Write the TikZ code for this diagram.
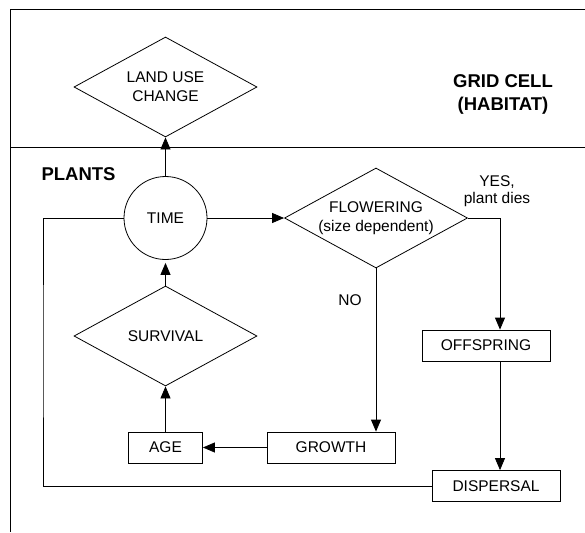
\documentclass[tikz,border=0pt]{standalone}
\usepackage{fontspec}
\setmainfont{Liberation Sans}
\usetikzlibrary{shapes.geometric, arrows.meta}

\tikzset{
	flowpicture/.style = {
		x = 1pt,
		y = -1pt,
		line width = 0.8pt,
		font = \fontsize{15.5}{19}\selectfont,
		>= {Triangle[length=12pt, width=10pt]},
		arrow/.style = {
			draw,
			->,
		}
	},
	decision/.style = {
		diamond,
		draw = black,
		aspect = 1.82,
		inner sep = 0pt,
		minimum width = 183pt,
		minimum height = 100pt,
		align = center
	},
	stepbox/.style = {
		rectangle,
		draw = black,
		minimum width = 128pt,
		minimum height = 31pt
	},
	timenode/.style = {
		circle,
		draw = black,
		minimum size = 83pt
	},
	heading/.style = {
		font = \fontsize{18.5}{23}\selectfont\bfseries,
		align = center
	}
}

\begin{document}
\begin{tikzpicture}[flowpicture]
	\useasboundingbox (0,0) rectangle (585,532);

	% habitat frame
	\draw (585,9) -- (10,9) -- (10,532);
	\draw (10,147) -- (585,147);

	\node[heading] (grid) at (503,94) {GRID CELL\\(HABITAT)};
	\node[heading] (plants) at (78.5,174) {PLANTS};

	\node[decision] (landuse) at (165.5,87) {LAND USE\\CHANGE};
	\node[timenode] (time) at (165.5,218) {TIME};
	\node[decision] (flowering) at (376,218) {FLOWERING\\(size dependent)};
	\node[decision] (survival) at (165.5,336) {SURVIVAL};

	\node[stepbox] (offspring) at (486,345.5) {OFFSPRING};
	\node[stepbox] (growth) at (331,447.5) {GROWTH};
	\node[stepbox, minimum width = 74pt] (age) at (165.5,447.5) {AGE};
	\node[stepbox] (dispersal) at (496,486) {DISPERSAL};

	\node[align = center] (yes) at (497,191) {YES,\\[-2pt]plant dies};
	\node (no) at (350,300) {NO};

	\coordinate (loopleft) at (43,350);

	% dispersed seeds go back to the time step
	\draw (dispersal.west) -| (loopleft) |- (time.west);

	\begin{scope}[every path/.style = arrow]
		\path (time) to (landuse);
		\path (time) to (flowering);

		\path (flowering.east) -| ([xshift=14pt]offspring.north);
		\path ([xshift=14pt]offspring.south) -- ([xshift=14pt]offspring.south |- dispersal.north);

		\path (flowering.south) -- (flowering.south |- growth.north);
		\path (growth) to (age);
		\path (age) to (survival);
		\path[shorten >= 3pt] (survival) to (time);
	\end{scope}
\end{tikzpicture}
\end{document}
